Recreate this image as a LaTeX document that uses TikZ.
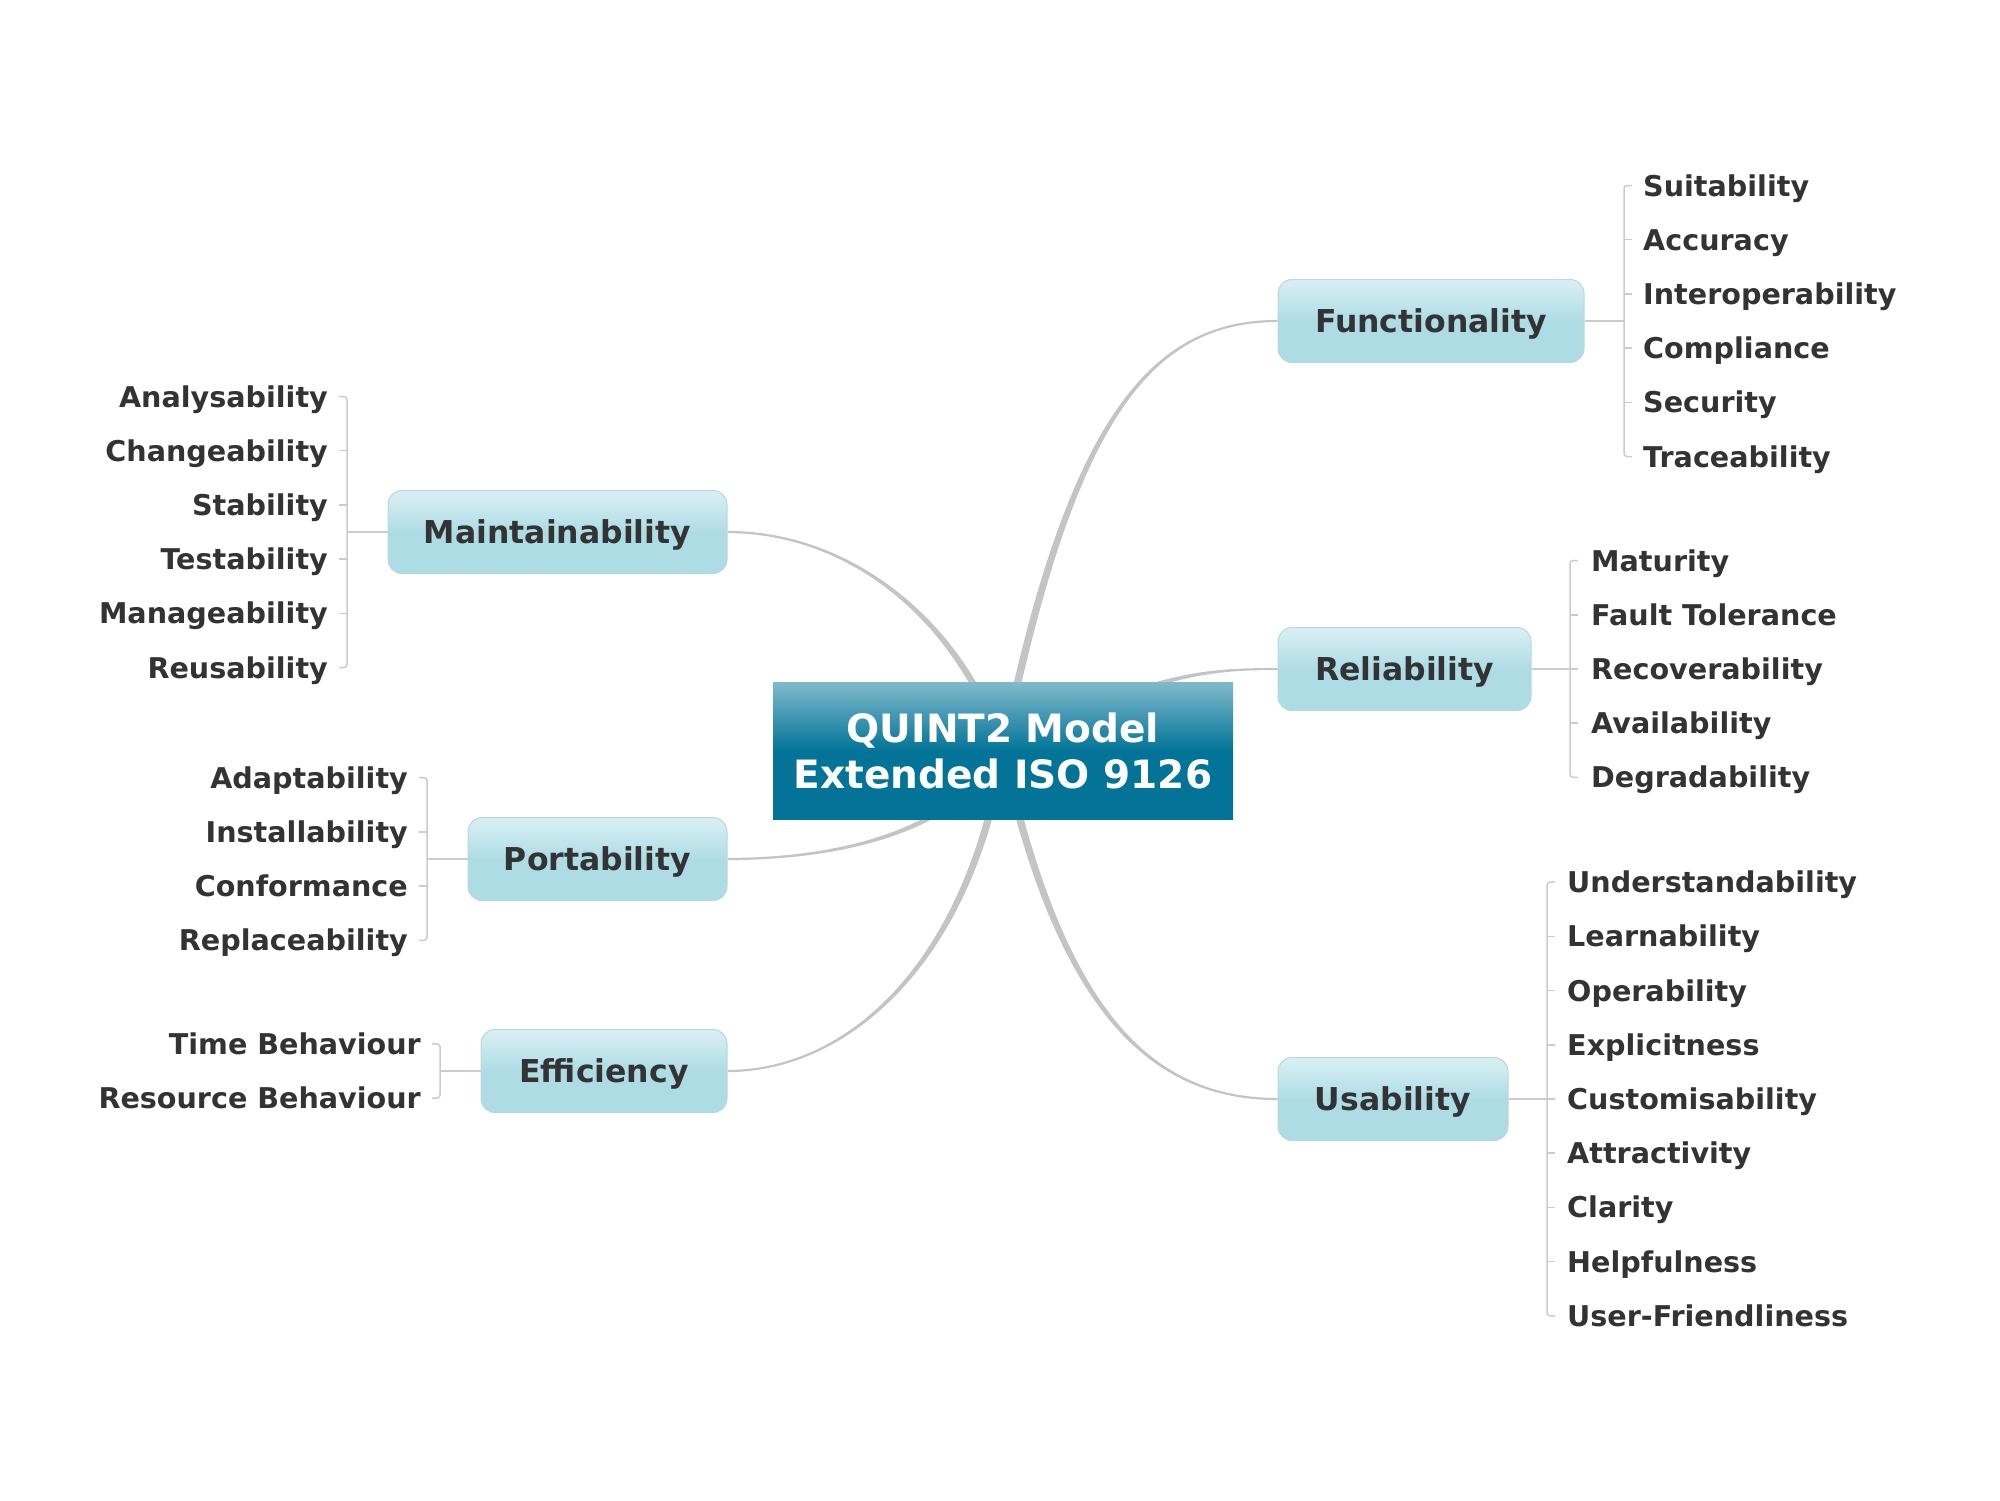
\documentclass[tikz,border=0pt]{standalone}
\usepackage{fontspec}
\setmainfont{DejaVu Sans}
\usetikzlibrary{calc}
\pgfdeclarelayer{bg}
\pgfsetlayers{bg,main}
\definecolor{txt}{HTML}{333333}
\definecolor{conn}{HTML}{C4C4C4}
\definecolor{brk}{HTML}{CCCCCC}
\definecolor{ctop}{HTML}{80BACC}
\definecolor{cbot}{HTML}{037498}
\definecolor{btop}{HTML}{DAF0F4}
\definecolor{bbot}{HTML}{AEDCE5}
\definecolor{bborder}{HTML}{B8D8DE}
\tikzset{
  central/.style={rectangle, top color=ctop, bottom color=cbot, middle color=cbot,
    minimum width=460pt, minimum height=137pt, inner sep=0pt, align=center,
    text=white, font=\fontsize{39}{46}\selectfont\bfseries},
  branch/.style={rectangle, rounded corners=14pt, draw=bborder, line width=1pt,
    top color=btop, bottom color=bbot, middle color=bbot, minimum height=83pt,
    inner sep=0pt, text height=23pt, text depth=0pt, text=txt,
    font=\fontsize{31.5}{36}\selectfont\bfseries},
  leafR/.style={anchor=base west, inner sep=0pt, text=txt, font=\fontsize{28.6}{34}\selectfont\bfseries},
  leafL/.style={anchor=base east, inner sep=0pt, text=txt, font=\fontsize{28.6}{34}\selectfont\bfseries},
  brk/.style={draw=brk, line width=1.5pt},
}
% tapered connector: start, control 1, control 2, end, start half width, end half width
\newcommand\taperconn[6]{%
  \fill[conn] ($(#1)!#5!90:(#2)$) .. controls ($(#2)!#5!-90:(#1)$) and ($(#3)!#6!90:(#4)$) .. ($(#4)!#6!-90:(#3)$)
    -- ($(#4)!#6!90:(#3)$) .. controls ($(#3)!#6!-90:(#4)$) and ($(#2)!#5!90:(#1)$) .. ($(#1)!#5!-90:(#2)$) -- cycle;}
\begin{document}
\begin{tikzpicture}[x=1pt,y=-1pt]
\useasboundingbox (0,0) rectangle (2000,1500);

% central and branch nodes
\node[central] (c) at (1003,750.5) {QUINT2 Model\\Extended ISO 9126};
\node[branch, minimum width=306pt] (fun) at (1431,321) {Functionality};
\node[branch, minimum width=253pt] (rel) at (1404.5,669) {Reliability};
\node[branch, minimum width=230pt] (usa) at (1393,1099) {Usability};
\node[branch, minimum width=339pt] (mai) at (557.5,532) {Maintainability};
\node[branch, minimum width=259pt] (por) at (597.5,859) {Portability};
\node[branch, minimum width=246pt] (eff) at (604,1071) {Efficiency};

% main connectors
\begin{pgfonlayer}{bg}
\fill[white] (0,0) rectangle (2000,1500);
\taperconn{c.center}{1070,420}{1150,321}{fun.west}{3.8pt}{1.1pt}
\taperconn{c.center}{1150,675}{1200,669}{rel.west}{3.2pt}{1pt}
\taperconn{c.center}{1060,1010}{1150,1099}{usa.west}{3.8pt}{1.1pt}
\taperconn{c.center}{960,620}{850,532}{mai.east}{3.6pt}{1.1pt}
\taperconn{c.center}{950,840}{820,859}{por.east}{3.4pt}{1.1pt}
\taperconn{c.center}{970,960}{850,1071}{eff.east}{3.8pt}{1.1pt}
\end{pgfonlayer}

% Functionality leaves
\coordinate (funB) at (1624,321);
\draw[brk] (fun.east) -- (funB);
\foreach \t [count=\i] in {Suitability,Accuracy,Interoperability,Compliance,Security,Traceability} {
  \node[leafR] (f\i) at (1643,{321+54.2*(\i-3.5)+10.5}) {\t};
  \coordinate (f\i t) at (1632,{321+54.2*(\i-3.5)});
}
\draw[brk, rounded corners=3pt] (f1t) -- (f1t -| funB) -- (f6t -| funB) -- (f6t);
\foreach \i in {2,...,5} \draw[brk] (f\i t) -- (f\i t -| funB);

% Reliability leaves
\coordinate (relB) at (1570,669);
\draw[brk] (rel.east) -- (relB);
\foreach \t [count=\i] in {Maturity,Fault Tolerance,Recoverability,Availability,Degradability} {
  \node[leafR] (r\i) at (1591,{669+54.2*(\i-3)+10.5}) {\t};
  \coordinate (r\i t) at (1578,{669+54.2*(\i-3)});
}
\draw[brk, rounded corners=3pt] (r1t) -- (r1t -| relB) -- (r5t -| relB) -- (r5t);
\foreach \i in {2,...,4} \draw[brk] (r\i t) -- (r\i t -| relB);

% Usability leaves
\coordinate (usaB) at (1547,1099);
\draw[brk] (usa.east) -- (usaB);
\foreach \t [count=\i] in {Understandability,Learnability,Operability,Explicitness,Customisability,Attractivity,Clarity,Helpfulness,User-Friendliness} {
  \node[leafR] (u\i) at (1567,{1099+54.2*(\i-5)+10.5}) {\t};
  \coordinate (u\i t) at (1555,{1099+54.2*(\i-5)});
}
\draw[brk, rounded corners=3pt] (u1t) -- (u1t -| usaB) -- (u9t -| usaB) -- (u9t);
\foreach \i in {2,...,8} \draw[brk] (u\i t) -- (u\i t -| usaB);

% Maintainability leaves
\coordinate (maiB) at (347,532);
\draw[brk] (mai.west) -- (maiB);
\foreach \t [count=\i] in {Analysability,Changeability,Stability,Testability,Manageability,Reusability} {
  \node[leafL] (m\i) at (328,{532+54.2*(\i-3.5)+10.5}) {\t};
  \coordinate (m\i t) at (339,{532+54.2*(\i-3.5)});
}
\draw[brk, rounded corners=3pt] (m1t) -- (m1t -| maiB) -- (m6t -| maiB) -- (m6t);
\foreach \i in {2,...,5} \draw[brk] (m\i t) -- (m\i t -| maiB);

% Portability leaves
\coordinate (porB) at (427,859);
\draw[brk] (por.west) -- (porB);
\foreach \t [count=\i] in {Adaptability,Installability,Conformance,Replaceability} {
  \node[leafL] (p\i) at (408,{859+54.2*(\i-2.5)+10.5}) {\t};
  \coordinate (p\i t) at (419,{859+54.2*(\i-2.5)});
}
\draw[brk, rounded corners=3pt] (p1t) -- (p1t -| porB) -- (p4t -| porB) -- (p4t);
\foreach \i in {2,3} \draw[brk] (p\i t) -- (p\i t -| porB);

% Efficiency leaves
\coordinate (effB) at (440,1071);
\draw[brk] (eff.west) -- (effB);
\foreach \t [count=\i] in {Time Behaviour,Resource Behaviour} {
  \node[leafL] (e\i) at (421,{1071+54.2*(\i-1.5)+10.5}) {\t};
  \coordinate (e\i t) at (432,{1071+54.2*(\i-1.5)});
}
\draw[brk, rounded corners=3pt] (e1t) -- (e1t -| effB) -- (e2t -| effB) -- (e2t);
\end{tikzpicture}
\end{document}
